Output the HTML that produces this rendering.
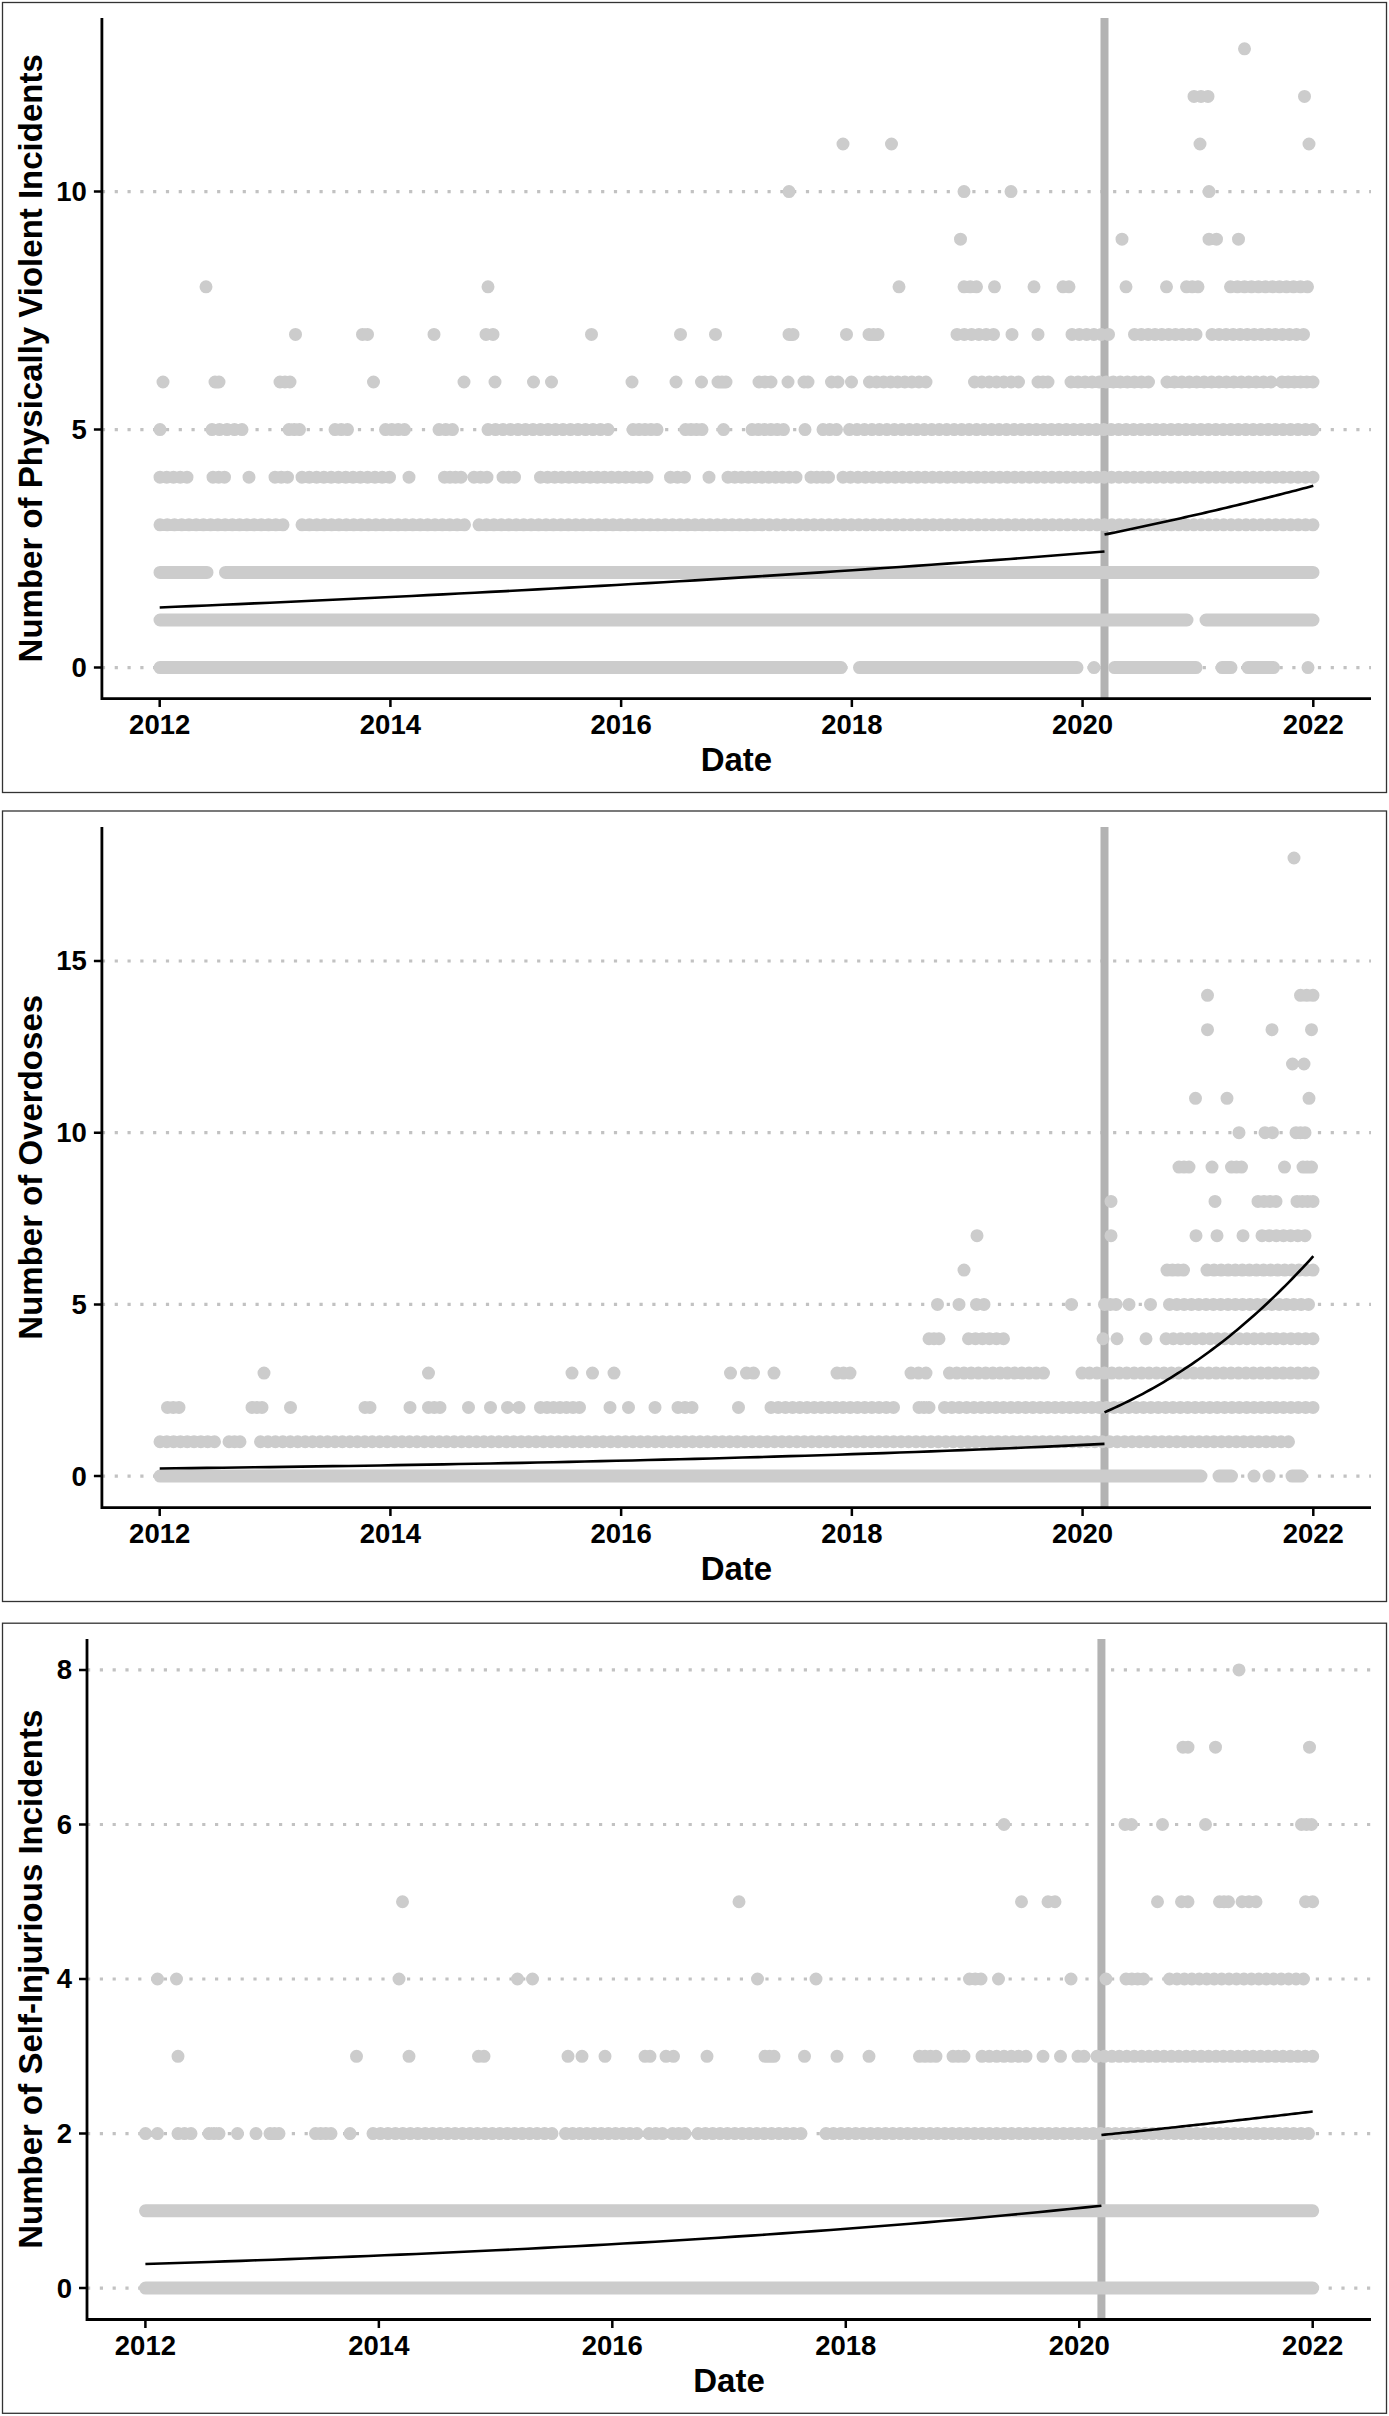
<!DOCTYPE html>
<html><head><meta charset="utf-8"><style>
html,body{margin:0;padding:0;background:#fff;}
svg{display:block;}
.tk{font-family:"Liberation Sans",sans-serif;font-weight:bold;font-size:27.5px;fill:#000;}
.ti{font-family:"Liberation Sans",sans-serif;font-weight:bold;font-size:33px;fill:#000;}
</style></head><body>
<svg width="1389" height="2416" viewBox="0 0 1389 2416">
<rect width="1389" height="2416" fill="#fff"/>
<rect x="2.5" y="2.5" width="1384" height="790" fill="none" stroke="#333" stroke-width="1.3"/>
<line x1="101.9" y1="667.6" x2="1371" y2="667.6" stroke="#c2c2c2" stroke-width="3.2" stroke-dasharray="3.2 9.6"/>
<line x1="101.9" y1="429.6" x2="1371" y2="429.6" stroke="#c2c2c2" stroke-width="3.2" stroke-dasharray="3.2 9.6"/>
<line x1="101.9" y1="191.6" x2="1371" y2="191.6" stroke="#c2c2c2" stroke-width="3.2" stroke-dasharray="3.2 9.6"/>
<line x1="1104.5" y1="18" x2="1104.5" y2="698.6" stroke="#b3b3b3" stroke-width="8"/>
<path d="M1244.5 48.8H1244.5M1194 96.4h0M1201 96.4h0M1208 96.4h0M1304.5 96.4H1304.5M843 144H843M891.5 144H891.5M1200 144H1200M1309 144H1309M789 191.6H789M964 191.6H964M1011 191.6H1011M1209 191.6H1209M960.5 239.2H960.5M1122 239.2H1122M1209 239.2h0M1216.5 239.2h0M1238.5 239.2H1238.5M206 286.8H206M488 286.8H488M899 286.8H899M964 286.8h0M970.25 286.8h0M976.5 286.8h0M994.5 286.8H994.5M1034 286.8H1034M1063 286.8h0M1069 286.8h0M1126 286.8H1126M1166.5 286.8H1166.5M1186.5 286.8h0M1192.25 286.8h0M1198 286.8h0M1230.5 286.8h0M1237.5 286.8h0M1244.5 286.8h0M1251.5 286.8h0M1258.5 286.8h0M1265.5 286.8h0M1272.5 286.8h0M1279.5 286.8h0M1286.5 286.8h0M1293.5 286.8h0M1300.5 286.8h0M1307.5 286.8h0M295.5 334.4H295.5M362.5 334.4h0M367.5 334.4h0M434 334.4H434M486 334.4h0M493 334.4h0M591.5 334.4H591.5M680.5 334.4H680.5M715.5 334.4H715.5M789 334.4h0M793 334.4h0M846.5 334.4H846.5M869 334.4h0M873.5 334.4h0M878 334.4h0M957 334.4h0M964.3 334.4h0M971.6 334.4h0M978.9 334.4h0M986.2 334.4h0M993.5 334.4h0M1012 334.4H1012M1038 334.4H1038M1072 334.4h0M1079.3 334.4h0M1086.6 334.4h0M1093.9 334.4h0M1101.2 334.4h0M1108.5 334.4h0M1134.5 334.4h0M1141.33 334.4h0M1148.17 334.4h0M1155 334.4h0M1161.83 334.4h0M1168.67 334.4h0M1175.5 334.4h0M1182.33 334.4h0M1189.17 334.4h0M1196 334.4h0M1212 334.4h0M1219.04 334.4h0M1226.08 334.4h0M1233.12 334.4h0M1240.15 334.4h0M1247.19 334.4h0M1254.23 334.4h0M1261.27 334.4h0M1268.31 334.4h0M1275.35 334.4h0M1282.38 334.4h0M1289.42 334.4h0M1296.46 334.4h0M1303.5 334.4h0M163 382H163M215 382h0M219 382h0M280 382h0M285 382h0M290 382h0M373.5 382H373.5M464 382H464M495 382H495M533.5 382H533.5M551.5 382H551.5M632 382H632M676 382H676M701.5 382H701.5M718 382h0M722 382h0M726 382h0M759 382h0M765 382h0M771 382h0M788 382H788M804 382h0M808 382h0M831.5 382h0M838 382h0M851.5 382H851.5M869.5 382h0M876.56 382h0M883.62 382h0M890.69 382h0M897.75 382h0M904.81 382h0M911.88 382h0M918.94 382h0M926 382h0M974.5 382h0M981.83 382h0M989.17 382h0M996.5 382h0M1003.83 382h0M1011.17 382h0M1018.5 382h0M1038 382h0M1043 382h0M1048 382h0M1071 382h0M1078.05 382h0M1085.09 382h0M1092.14 382h0M1099.18 382h0M1106.23 382h0M1113.27 382h0M1120.32 382h0M1127.36 382h0M1134.41 382h0M1141.45 382h0M1148.5 382h0M1167 382h0M1174.43 382h0M1181.86 382h0M1189.29 382h0M1196.71 382h0M1204.14 382h0M1211.57 382h0M1219 382h0M1226.43 382h0M1233.86 382h0M1241.29 382h0M1248.71 382h0M1256.14 382h0M1263.57 382h0M1271 382h0M1282 382h0M1288.2 382h0M1294.4 382h0M1300.6 382h0M1306.8 382h0M1313 382h0M160 429.6H160M212 429.6h0M219.5 429.6h0M227 429.6h0M234.5 429.6h0M242 429.6h0M289 429.6h0M294.25 429.6h0M299.5 429.6h0M335 429.6h0M341.25 429.6h0M347.5 429.6h0M385.5 429.6h0M391.83 429.6h0M398.17 429.6h0M404.5 429.6h0M439 429.6h0M445.75 429.6h0M452.5 429.6h0M488 429.6h0M495.5 429.6h0M503 429.6h0M510.5 429.6h0M518 429.6h0M525.5 429.6h0M533 429.6h0M540.5 429.6h0M548 429.6h0M555.5 429.6h0M563 429.6h0M570.5 429.6h0M578 429.6h0M585.5 429.6h0M593 429.6h0M600.5 429.6h0M608 429.6h0M633 429.6h0M639 429.6h0M645 429.6h0M651 429.6h0M657 429.6h0M685.5 429.6h0M691 429.6h0M696.5 429.6h0M702 429.6h0M723.5 429.6H723.5M752 429.6h0M758.3 429.6h0M764.6 429.6h0M770.9 429.6h0M777.2 429.6h0M783.5 429.6h0M805 429.6H805M823 429.6h0M829.75 429.6h0M836.5 429.6h0M849.5 429.6h0M856.98 429.6h0M864.45 429.6h0M871.93 429.6h0M879.4 429.6h0M886.88 429.6h0M894.35 429.6h0M901.83 429.6h0M909.31 429.6h0M916.78 429.6h0M924.26 429.6h0M931.73 429.6h0M939.21 429.6h0M946.69 429.6h0M954.16 429.6h0M961.64 429.6h0M969.11 429.6h0M976.59 429.6h0M984.06 429.6h0M991.54 429.6h0M999.02 429.6h0M1006.49 429.6h0M1013.97 429.6h0M1021.44 429.6h0M1028.92 429.6h0M1036.4 429.6h0M1043.87 429.6h0M1051.35 429.6h0M1058.82 429.6h0M1066.3 429.6h0M1073.77 429.6h0M1081.25 429.6h0M1088.73 429.6h0M1096.2 429.6h0M1103.68 429.6h0M1111.15 429.6h0M1118.63 429.6h0M1126.1 429.6h0M1133.58 429.6h0M1141.06 429.6h0M1148.53 429.6h0M1156.01 429.6h0M1163.48 429.6h0M1170.96 429.6h0M1178.44 429.6h0M1185.91 429.6h0M1193.39 429.6h0M1200.86 429.6h0M1208.34 429.6h0M1215.81 429.6h0M1223.29 429.6h0M1230.77 429.6h0M1238.24 429.6h0M1245.72 429.6h0M1253.19 429.6h0M1260.67 429.6h0M1268.15 429.6h0M1275.62 429.6h0M1283.1 429.6h0M1290.57 429.6h0M1298.05 429.6h0M1305.52 429.6h0M1313 429.6h0M160 477.2h0M166.75 477.2h0M173.5 477.2h0M180.25 477.2h0M187 477.2h0M213 477.2h0M218.75 477.2h0M224.5 477.2h0M249 477.2H249M275 477.2h0M281.25 477.2h0M287.5 477.2h0M302 477.2h0M309.29 477.2h0M316.58 477.2h0M323.88 477.2h0M331.17 477.2h0M338.46 477.2h0M345.75 477.2h0M353.04 477.2h0M360.33 477.2h0M367.62 477.2h0M374.92 477.2h0M382.21 477.2h0M389.5 477.2h0M409 477.2H409M444.5 477.2h0M450 477.2h0M455.5 477.2h0M461 477.2h0M474 477.2h0M480.5 477.2h0M487 477.2h0M503 477.2h0M508.75 477.2h0M514.5 477.2h0M540.5 477.2h0M547.6 477.2h0M554.7 477.2h0M561.8 477.2h0M568.9 477.2h0M576 477.2h0M583.1 477.2h0M590.2 477.2h0M597.3 477.2h0M604.4 477.2h0M611.5 477.2h0M618.6 477.2h0M625.7 477.2h0M632.8 477.2h0M639.9 477.2h0M647 477.2h0M670.5 477.2h0M677.5 477.2h0M684.5 477.2h0M709 477.2H709M728 477.2h0M734.8 477.2h0M741.6 477.2h0M748.4 477.2h0M755.2 477.2h0M762 477.2h0M768.8 477.2h0M775.6 477.2h0M782.4 477.2h0M789.2 477.2h0M796 477.2h0M811 477.2h0M816.83 477.2h0M822.67 477.2h0M828.5 477.2h0M843 477.2h0M850.46 477.2h0M857.92 477.2h0M865.38 477.2h0M872.84 477.2h0M880.3 477.2h0M887.76 477.2h0M895.22 477.2h0M902.68 477.2h0M910.14 477.2h0M917.6 477.2h0M925.06 477.2h0M932.52 477.2h0M939.98 477.2h0M947.44 477.2h0M954.9 477.2h0M962.37 477.2h0M969.83 477.2h0M977.29 477.2h0M984.75 477.2h0M992.21 477.2h0M999.67 477.2h0M1007.13 477.2h0M1014.59 477.2h0M1022.05 477.2h0M1029.51 477.2h0M1036.97 477.2h0M1044.43 477.2h0M1051.89 477.2h0M1059.35 477.2h0M1066.81 477.2h0M1074.27 477.2h0M1081.73 477.2h0M1089.19 477.2h0M1096.65 477.2h0M1104.11 477.2h0M1111.57 477.2h0M1119.03 477.2h0M1126.49 477.2h0M1133.95 477.2h0M1141.41 477.2h0M1148.87 477.2h0M1156.33 477.2h0M1163.79 477.2h0M1171.25 477.2h0M1178.71 477.2h0M1186.17 477.2h0M1193.63 477.2h0M1201.1 477.2h0M1208.56 477.2h0M1216.02 477.2h0M1223.48 477.2h0M1230.94 477.2h0M1238.4 477.2h0M1245.86 477.2h0M1253.32 477.2h0M1260.78 477.2h0M1268.24 477.2h0M1275.7 477.2h0M1283.16 477.2h0M1290.62 477.2h0M1298.08 477.2h0M1305.54 477.2h0M1313 477.2h0M160 524.8h0M167.24 524.8h0M174.47 524.8h0M181.71 524.8h0M188.94 524.8h0M196.18 524.8h0M203.41 524.8h0M210.65 524.8h0M217.88 524.8h0M225.12 524.8h0M232.35 524.8h0M239.59 524.8h0M246.82 524.8h0M254.06 524.8h0M261.29 524.8h0M268.53 524.8h0M275.76 524.8h0M283 524.8h0M302 524.8h0M309.39 524.8h0M316.77 524.8h0M324.16 524.8h0M331.55 524.8h0M338.93 524.8h0M346.32 524.8h0M353.7 524.8h0M361.09 524.8h0M368.48 524.8h0M375.86 524.8h0M383.25 524.8h0M390.64 524.8h0M398.02 524.8h0M405.41 524.8h0M412.8 524.8h0M420.18 524.8h0M427.57 524.8h0M434.95 524.8h0M442.34 524.8h0M449.73 524.8h0M457.11 524.8h0M464.5 524.8h0M479 524.8h0M486.45 524.8h0M493.89 524.8h0M501.34 524.8h0M508.79 524.8h0M516.23 524.8h0M523.68 524.8h0M531.12 524.8h0M538.57 524.8h0M546.02 524.8h0M553.46 524.8h0M560.91 524.8h0M568.36 524.8h0M575.8 524.8h0M583.25 524.8h0M590.7 524.8h0M598.14 524.8h0M605.59 524.8h0M613.04 524.8h0M620.48 524.8h0M627.93 524.8h0M635.38 524.8h0M642.82 524.8h0M650.27 524.8h0M657.71 524.8h0M665.16 524.8h0M672.61 524.8h0M680.05 524.8h0M687.5 524.8h0M694.95 524.8h0M702.39 524.8h0M709.84 524.8h0M717.29 524.8h0M724.73 524.8h0M732.18 524.8h0M739.62 524.8h0M747.07 524.8h0M754.52 524.8h0M761.96 524.8h0M769.41 524.8h0M776.86 524.8h0M784.3 524.8h0M791.75 524.8h0M799.2 524.8h0M806.64 524.8h0M814.09 524.8h0M821.54 524.8h0M828.98 524.8h0M836.43 524.8h0M843.88 524.8h0M851.32 524.8h0M858.77 524.8h0M866.21 524.8h0M873.66 524.8h0M881.11 524.8h0M888.55 524.8h0M896 524.8h0M903.45 524.8h0M910.89 524.8h0M918.34 524.8h0M925.79 524.8h0M933.23 524.8h0M940.68 524.8h0M948.12 524.8h0M955.57 524.8h0M963.02 524.8h0M970.46 524.8h0M977.91 524.8h0M985.36 524.8h0M992.8 524.8h0M1000.25 524.8h0M1007.7 524.8h0M1015.14 524.8h0M1022.59 524.8h0M1030.04 524.8h0M1037.48 524.8h0M1044.93 524.8h0M1052.38 524.8h0M1059.82 524.8h0M1067.27 524.8h0M1074.71 524.8h0M1082.16 524.8h0M1089.61 524.8h0M1097.05 524.8h0M1104.5 524.8h0M1111.95 524.8h0M1119.39 524.8h0M1126.84 524.8h0M1134.29 524.8h0M1141.73 524.8h0M1149.18 524.8h0M1156.62 524.8h0M1164.07 524.8h0M1171.52 524.8h0M1178.96 524.8h0M1186.41 524.8h0M1193.86 524.8h0M1201.3 524.8h0M1208.75 524.8h0M1216.2 524.8h0M1223.64 524.8h0M1231.09 524.8h0M1238.54 524.8h0M1245.98 524.8h0M1253.43 524.8h0M1260.88 524.8h0M1268.32 524.8h0M1275.77 524.8h0M1283.21 524.8h0M1290.66 524.8h0M1298.11 524.8h0M1305.55 524.8h0M1313 524.8h0M160 572.4H207M225.5 572.4H1313M160 620H1187M1206 620H1313M160 667.6H841M859.5 667.6H1077M1094 667.6H1094M1114.5 667.6H1196M1222 667.6H1231M1248 667.6H1273.5M1308 667.6H1308" stroke="#cccccc" stroke-width="13" stroke-linecap="round" fill="none"/>
<polyline points="159.7,607.48 175.45,606.82 191.19,606.15 206.94,605.47 222.69,604.79 238.43,604.09 254.18,603.39 269.93,602.69 285.67,601.97 301.42,601.25 317.17,600.52 332.91,599.78 348.66,599.03 364.41,598.27 380.15,597.51 395.9,596.74 411.65,595.96 427.39,595.17 443.14,594.37 458.89,593.56 474.63,592.75 490.38,591.92 506.13,591.09 521.87,590.24 537.62,589.39 553.37,588.53 569.11,587.66 584.86,586.78 600.61,585.89 616.35,584.99 632.1,584.07 647.85,583.15 663.59,582.22 679.34,581.28 695.09,580.33 710.83,579.37 726.58,578.4 742.33,577.41 758.07,576.42 773.82,575.41 789.57,574.4 805.31,573.37 821.06,572.33 836.81,571.28 852.55,570.22 868.3,569.15 884.05,568.06 899.79,566.97 915.54,565.86 931.29,564.74 947.03,563.6 962.78,562.46 978.53,561.3 994.27,560.13 1010.02,558.94 1025.77,557.74 1041.51,556.53 1057.26,555.31 1073.01,554.07 1088.75,552.82 1104.5,551.55" fill="none" stroke="#000" stroke-width="2.6"/>
<polyline points="1104.5,534.57 1107.98,533.86 1111.46,533.14 1114.94,532.42 1118.42,531.7 1121.9,530.98 1125.38,530.25 1128.86,529.52 1132.34,528.79 1135.82,528.05 1139.3,527.31 1142.78,526.57 1146.26,525.82 1149.74,525.07 1153.22,524.32 1156.7,523.56 1160.18,522.8 1163.66,522.04 1167.14,521.27 1170.62,520.5 1174.1,519.73 1177.58,518.95 1181.06,518.17 1184.54,517.39 1188.02,516.6 1191.5,515.81 1194.98,515.01 1198.46,514.22 1201.94,513.42 1205.42,512.61 1208.9,511.8 1212.38,510.99 1215.86,510.17 1219.34,509.36 1222.82,508.53 1226.3,507.71 1229.78,506.88 1233.26,506.04 1236.74,505.21 1240.22,504.37 1243.7,503.52 1247.18,502.67 1250.66,501.82 1254.14,500.97 1257.62,500.11 1261.1,499.24 1264.58,498.38 1268.06,497.51 1271.54,496.63 1275.02,495.76 1278.5,494.88 1281.98,493.99 1285.46,493.1 1288.94,492.21 1292.42,491.31 1295.9,490.41 1299.38,489.51 1302.86,488.6 1306.34,487.69 1309.82,486.77 1313.3,485.85" fill="none" stroke="#000" stroke-width="2.6"/>
<path d="M101.9 18V698.6H1371" fill="none" stroke="#000" stroke-width="2.8" stroke-linecap="butt"/>
<path d="M93.9 667.6H101.9M93.9 429.6H101.9M93.9 191.6H101.9M159.7 698.6V707.1M390.42 698.6V707.1M621.14 698.6V707.1M851.86 698.6V707.1M1082.58 698.6V707.1M1313.3 698.6V707.1" stroke="#000" stroke-width="2.5"/>
<text x="86.9" y="677" text-anchor="end" class="tk">0</text>
<text x="86.9" y="439" text-anchor="end" class="tk">5</text>
<text x="86.9" y="201" text-anchor="end" class="tk">10</text>
<text x="159.7" y="733.8" text-anchor="middle" class="tk">2012</text>
<text x="390.42" y="733.8" text-anchor="middle" class="tk">2014</text>
<text x="621.14" y="733.8" text-anchor="middle" class="tk">2016</text>
<text x="851.86" y="733.8" text-anchor="middle" class="tk">2018</text>
<text x="1082.58" y="733.8" text-anchor="middle" class="tk">2020</text>
<text x="1313.3" y="733.8" text-anchor="middle" class="tk">2022</text>
<text x="736.45" y="770.8" text-anchor="middle" class="ti">Date</text>
<text transform="translate(42.2 358.3) rotate(-90)" x="0" y="0" text-anchor="middle" class="ti">Number of Physically Violent Incidents</text>
<rect x="2.5" y="811" width="1384" height="790.5" fill="none" stroke="#333" stroke-width="1.3"/>
<line x1="101.9" y1="1476.1" x2="1371" y2="1476.1" stroke="#c2c2c2" stroke-width="3.2" stroke-dasharray="3.2 9.6"/>
<line x1="101.9" y1="1304.4" x2="1371" y2="1304.4" stroke="#c2c2c2" stroke-width="3.2" stroke-dasharray="3.2 9.6"/>
<line x1="101.9" y1="1132.7" x2="1371" y2="1132.7" stroke="#c2c2c2" stroke-width="3.2" stroke-dasharray="3.2 9.6"/>
<line x1="101.9" y1="961" x2="1371" y2="961" stroke="#c2c2c2" stroke-width="3.2" stroke-dasharray="3.2 9.6"/>
<line x1="1104.5" y1="827" x2="1104.5" y2="1507.6" stroke="#b3b3b3" stroke-width="8"/>
<path d="M1294 857.98H1294M1207.5 995.34H1207.5M1300.5 995.34h0M1306.75 995.34h0M1313 995.34h0M1207.5 1029.68H1207.5M1272 1029.68H1272M1311.5 1029.68H1311.5M1292.5 1064.02H1292.5M1304 1064.02H1304M1195.5 1098.36H1195.5M1227 1098.36H1227M1309 1098.36H1309M1239 1132.7H1239M1265 1132.7h0M1272.5 1132.7h0M1296 1132.7h0M1300.5 1132.7h0M1305 1132.7h0M1179 1167.04h0M1184 1167.04h0M1189 1167.04h0M1212 1167.04H1212M1231.5 1167.04h0M1236.5 1167.04h0M1241.5 1167.04h0M1284.5 1167.04H1284.5M1303 1167.04h0M1307.25 1167.04h0M1311.5 1167.04h0M1111 1201.38H1111M1215 1201.38H1215M1258 1201.38h0M1264 1201.38h0M1270 1201.38h0M1276 1201.38h0M1297 1201.38h0M1302.33 1201.38h0M1307.67 1201.38h0M1313 1201.38h0M977 1235.72H977M1111 1235.72H1111M1196 1235.72H1196M1217 1235.72H1217M1243 1235.72H1243M1262 1235.72h0M1269.17 1235.72h0M1276.33 1235.72h0M1283.5 1235.72h0M1290.67 1235.72h0M1297.83 1235.72h0M1305 1235.72h0M964 1270.06H964M1167 1270.06h0M1172.5 1270.06h0M1178 1270.06h0M1183.5 1270.06h0M1207 1270.06h0M1214.07 1270.06h0M1221.13 1270.06h0M1228.2 1270.06h0M1235.27 1270.06h0M1242.33 1270.06h0M1249.4 1270.06h0M1256.47 1270.06h0M1263.53 1270.06h0M1270.6 1270.06h0M1277.67 1270.06h0M1284.73 1270.06h0M1291.8 1270.06h0M1298.87 1270.06h0M1305.93 1270.06h0M1313 1270.06h0M937.5 1304.4H937.5M959 1304.4H959M976.5 1304.4h0M984 1304.4h0M1071.5 1304.4H1071.5M1104.5 1304.4h0M1110.25 1304.4h0M1116 1304.4h0M1129 1304.4H1129M1150.5 1304.4H1150.5M1169.5 1304.4h0M1176.82 1304.4h0M1184.13 1304.4h0M1191.45 1304.4h0M1198.76 1304.4h0M1206.08 1304.4h0M1213.39 1304.4h0M1220.71 1304.4h0M1228.03 1304.4h0M1235.34 1304.4h0M1242.66 1304.4h0M1249.97 1304.4h0M1257.29 1304.4h0M1264.61 1304.4h0M1271.92 1304.4h0M1279.24 1304.4h0M1286.55 1304.4h0M1293.87 1304.4h0M1301.18 1304.4h0M1308.5 1304.4h0M929 1338.74h0M934 1338.74h0M939 1338.74h0M968.5 1338.74h0M975.5 1338.74h0M982.5 1338.74h0M989.5 1338.74h0M996.5 1338.74h0M1003.5 1338.74h0M1103 1338.74H1103M1117 1338.74H1117M1146 1338.74H1146M1166 1338.74h0M1173.35 1338.74h0M1180.7 1338.74h0M1188.05 1338.74h0M1195.4 1338.74h0M1202.75 1338.74h0M1210.1 1338.74h0M1217.45 1338.74h0M1224.8 1338.74h0M1232.15 1338.74h0M1239.5 1338.74h0M1246.85 1338.74h0M1254.2 1338.74h0M1261.55 1338.74h0M1268.9 1338.74h0M1276.25 1338.74h0M1283.6 1338.74h0M1290.95 1338.74h0M1298.3 1338.74h0M1305.65 1338.74h0M1313 1338.74h0M264 1373.08H264M428.5 1373.08H428.5M572 1373.08H572M592.5 1373.08H592.5M614 1373.08H614M730.5 1373.08H730.5M746.5 1373.08h0M753.5 1373.08h0M774 1373.08H774M837 1373.08h0M843.5 1373.08h0M850 1373.08h0M911 1373.08h0M918.5 1373.08h0M926 1373.08h0M949.5 1373.08h0M956.73 1373.08h0M963.96 1373.08h0M971.19 1373.08h0M978.42 1373.08h0M985.65 1373.08h0M992.88 1373.08h0M1000.12 1373.08h0M1007.35 1373.08h0M1014.58 1373.08h0M1021.81 1373.08h0M1029.04 1373.08h0M1036.27 1373.08h0M1043.5 1373.08h0M1082 1373.08h0M1089.45 1373.08h0M1096.9 1373.08h0M1104.35 1373.08h0M1111.81 1373.08h0M1119.26 1373.08h0M1126.71 1373.08h0M1134.16 1373.08h0M1141.61 1373.08h0M1149.06 1373.08h0M1156.52 1373.08h0M1163.97 1373.08h0M1171.42 1373.08h0M1178.87 1373.08h0M1186.32 1373.08h0M1193.77 1373.08h0M1201.23 1373.08h0M1208.68 1373.08h0M1216.13 1373.08h0M1223.58 1373.08h0M1231.03 1373.08h0M1238.48 1373.08h0M1245.94 1373.08h0M1253.39 1373.08h0M1260.84 1373.08h0M1268.29 1373.08h0M1275.74 1373.08h0M1283.19 1373.08h0M1290.65 1373.08h0M1298.1 1373.08h0M1305.55 1373.08h0M1313 1373.08h0M167.5 1407.42h0M173.25 1407.42h0M179 1407.42h0M252 1407.42h0M257 1407.42h0M262 1407.42h0M290.5 1407.42H290.5M365 1407.42h0M370 1407.42h0M410 1407.42H410M428.5 1407.42h0M434.25 1407.42h0M440 1407.42h0M468.5 1407.42H468.5M490.5 1407.42H490.5M507.5 1407.42H507.5M519 1407.42H519M540.5 1407.42h0M547 1407.42h0M553.5 1407.42h0M560 1407.42h0M566.5 1407.42h0M573 1407.42h0M579.5 1407.42h0M610 1407.42H610M628.5 1407.42H628.5M655 1407.42H655M678 1407.42h0M685 1407.42h0M692 1407.42h0M738.5 1407.42H738.5M771 1407.42h0M778.21 1407.42h0M785.41 1407.42h0M792.62 1407.42h0M799.82 1407.42h0M807.03 1407.42h0M814.24 1407.42h0M821.44 1407.42h0M828.65 1407.42h0M835.85 1407.42h0M843.06 1407.42h0M850.26 1407.42h0M857.47 1407.42h0M864.68 1407.42h0M871.88 1407.42h0M879.09 1407.42h0M886.29 1407.42h0M893.5 1407.42h0M919 1407.42h0M924 1407.42h0M929 1407.42h0M944.5 1407.42h0M951.87 1407.42h0M959.24 1407.42h0M966.61 1407.42h0M973.98 1407.42h0M981.35 1407.42h0M988.72 1407.42h0M996.09 1407.42h0M1003.46 1407.42h0M1010.83 1407.42h0M1018.2 1407.42h0M1025.57 1407.42h0M1032.94 1407.42h0M1040.31 1407.42h0M1047.68 1407.42h0M1055.05 1407.42h0M1062.42 1407.42h0M1069.79 1407.42h0M1077.16 1407.42h0M1084.53 1407.42h0M1091.9 1407.42h0M1099.27 1407.42h0M1106.64 1407.42h0M1114.01 1407.42h0M1121.38 1407.42h0M1128.75 1407.42h0M1136.12 1407.42h0M1143.49 1407.42h0M1150.86 1407.42h0M1158.23 1407.42h0M1165.6 1407.42h0M1172.97 1407.42h0M1180.34 1407.42h0M1187.71 1407.42h0M1195.08 1407.42h0M1202.45 1407.42h0M1209.82 1407.42h0M1217.19 1407.42h0M1224.56 1407.42h0M1231.93 1407.42h0M1239.3 1407.42h0M1246.67 1407.42h0M1254.04 1407.42h0M1261.41 1407.42h0M1268.78 1407.42h0M1276.15 1407.42h0M1283.52 1407.42h0M1290.89 1407.42h0M1298.26 1407.42h0M1305.63 1407.42h0M1313 1407.42h0M160 1441.76h0M166.81 1441.76h0M173.62 1441.76h0M180.44 1441.76h0M187.25 1441.76h0M194.06 1441.76h0M200.88 1441.76h0M207.69 1441.76h0M214.5 1441.76h0M229 1441.76h0M234.5 1441.76h0M240 1441.76h0M260.5 1441.76h0M267.95 1441.76h0M275.4 1441.76h0M282.85 1441.76h0M290.3 1441.76h0M297.75 1441.76h0M305.2 1441.76h0M312.64 1441.76h0M320.09 1441.76h0M327.54 1441.76h0M334.99 1441.76h0M342.44 1441.76h0M349.89 1441.76h0M357.34 1441.76h0M364.79 1441.76h0M372.24 1441.76h0M379.69 1441.76h0M387.14 1441.76h0M394.59 1441.76h0M402.04 1441.76h0M409.49 1441.76h0M416.93 1441.76h0M424.38 1441.76h0M431.83 1441.76h0M439.28 1441.76h0M446.73 1441.76h0M454.18 1441.76h0M461.63 1441.76h0M469.08 1441.76h0M476.53 1441.76h0M483.98 1441.76h0M491.43 1441.76h0M498.88 1441.76h0M506.33 1441.76h0M513.78 1441.76h0M521.22 1441.76h0M528.67 1441.76h0M536.12 1441.76h0M543.57 1441.76h0M551.02 1441.76h0M558.47 1441.76h0M565.92 1441.76h0M573.37 1441.76h0M580.82 1441.76h0M588.27 1441.76h0M595.72 1441.76h0M603.17 1441.76h0M610.62 1441.76h0M618.07 1441.76h0M625.51 1441.76h0M632.96 1441.76h0M640.41 1441.76h0M647.86 1441.76h0M655.31 1441.76h0M662.76 1441.76h0M670.21 1441.76h0M677.66 1441.76h0M685.11 1441.76h0M692.56 1441.76h0M700.01 1441.76h0M707.46 1441.76h0M714.91 1441.76h0M722.36 1441.76h0M729.8 1441.76h0M737.25 1441.76h0M744.7 1441.76h0M752.15 1441.76h0M759.6 1441.76h0M767.05 1441.76h0M774.5 1441.76h0M781.95 1441.76h0M789.4 1441.76h0M796.85 1441.76h0M804.3 1441.76h0M811.75 1441.76h0M819.2 1441.76h0M826.64 1441.76h0M834.09 1441.76h0M841.54 1441.76h0M848.99 1441.76h0M856.44 1441.76h0M863.89 1441.76h0M871.34 1441.76h0M878.79 1441.76h0M886.24 1441.76h0M893.69 1441.76h0M901.14 1441.76h0M908.59 1441.76h0M916.04 1441.76h0M923.49 1441.76h0M930.93 1441.76h0M938.38 1441.76h0M945.83 1441.76h0M953.28 1441.76h0M960.73 1441.76h0M968.18 1441.76h0M975.63 1441.76h0M983.08 1441.76h0M990.53 1441.76h0M997.98 1441.76h0M1005.43 1441.76h0M1012.88 1441.76h0M1020.33 1441.76h0M1027.78 1441.76h0M1035.22 1441.76h0M1042.67 1441.76h0M1050.12 1441.76h0M1057.57 1441.76h0M1065.02 1441.76h0M1072.47 1441.76h0M1079.92 1441.76h0M1087.37 1441.76h0M1094.82 1441.76h0M1102.27 1441.76h0M1109.72 1441.76h0M1117.17 1441.76h0M1124.62 1441.76h0M1132.07 1441.76h0M1139.51 1441.76h0M1146.96 1441.76h0M1154.41 1441.76h0M1161.86 1441.76h0M1169.31 1441.76h0M1176.76 1441.76h0M1184.21 1441.76h0M1191.66 1441.76h0M1199.11 1441.76h0M1206.56 1441.76h0M1214.01 1441.76h0M1221.46 1441.76h0M1228.91 1441.76h0M1236.36 1441.76h0M1243.8 1441.76h0M1251.25 1441.76h0M1258.7 1441.76h0M1266.15 1441.76h0M1273.6 1441.76h0M1281.05 1441.76h0M1288.5 1441.76h0M160 1476.1H1201M1219 1476.1H1231.5M1254 1476.1H1254M1269 1476.1H1269M1292 1476.1H1301" stroke="#cccccc" stroke-width="13" stroke-linecap="round" fill="none"/>
<polyline points="159.7,1468.48 175.45,1468.29 191.19,1468.1 206.94,1467.91 222.69,1467.71 238.43,1467.5 254.18,1467.29 269.93,1467.08 285.67,1466.86 301.42,1466.64 317.17,1466.41 332.91,1466.17 348.66,1465.93 364.41,1465.68 380.15,1465.43 395.9,1465.17 411.65,1464.9 427.39,1464.63 443.14,1464.35 458.89,1464.07 474.63,1463.77 490.38,1463.47 506.13,1463.17 521.87,1462.85 537.62,1462.53 553.37,1462.2 569.11,1461.86 584.86,1461.52 600.61,1461.16 616.35,1460.8 632.1,1460.43 647.85,1460.05 663.59,1459.66 679.34,1459.26 695.09,1458.85 710.83,1458.43 726.58,1458 742.33,1457.56 758.07,1457.11 773.82,1456.64 789.57,1456.17 805.31,1455.69 821.06,1455.19 836.81,1454.68 852.55,1454.16 868.3,1453.63 884.05,1453.08 899.79,1452.52 915.54,1451.95 931.29,1451.36 947.03,1450.76 962.78,1450.14 978.53,1449.51 994.27,1448.86 1010.02,1448.2 1025.77,1447.52 1041.51,1446.83 1057.26,1446.12 1073.01,1445.39 1088.75,1444.64 1104.5,1443.88" fill="none" stroke="#000" stroke-width="2.6"/>
<polyline points="1104.5,1412.34 1107.98,1410.81 1111.46,1409.25 1114.94,1407.66 1118.42,1406.04 1121.9,1404.38 1125.38,1402.7 1128.86,1400.99 1132.34,1399.24 1135.82,1397.46 1139.3,1395.65 1142.78,1393.8 1146.26,1391.93 1149.74,1390.01 1153.22,1388.07 1156.7,1386.09 1160.18,1384.07 1163.66,1382.02 1167.14,1379.93 1170.62,1377.81 1174.1,1375.65 1177.58,1373.46 1181.06,1371.22 1184.54,1368.95 1188.02,1366.64 1191.5,1364.3 1194.98,1361.91 1198.46,1359.49 1201.94,1357.03 1205.42,1354.53 1208.9,1351.99 1212.38,1349.4 1215.86,1346.78 1219.34,1344.12 1222.82,1341.42 1226.3,1338.68 1229.78,1335.89 1233.26,1333.07 1236.74,1330.2 1240.22,1327.29 1243.7,1324.34 1247.18,1321.34 1250.66,1318.31 1254.14,1315.23 1257.62,1312.1 1261.1,1308.94 1264.58,1305.73 1268.06,1302.48 1271.54,1299.18 1275.02,1295.84 1278.5,1292.46 1281.98,1289.03 1285.46,1285.56 1288.94,1282.05 1292.42,1278.49 1295.9,1274.88 1299.38,1271.23 1302.86,1267.54 1306.34,1263.8 1309.82,1260.02 1313.3,1256.2" fill="none" stroke="#000" stroke-width="2.6"/>
<path d="M101.9 827V1507.6H1371" fill="none" stroke="#000" stroke-width="2.8" stroke-linecap="butt"/>
<path d="M93.9 1476.1H101.9M93.9 1304.4H101.9M93.9 1132.7H101.9M93.9 961H101.9M159.7 1507.6V1516.1M390.42 1507.6V1516.1M621.14 1507.6V1516.1M851.86 1507.6V1516.1M1082.58 1507.6V1516.1M1313.3 1507.6V1516.1" stroke="#000" stroke-width="2.5"/>
<text x="86.9" y="1485.5" text-anchor="end" class="tk">0</text>
<text x="86.9" y="1313.8" text-anchor="end" class="tk">5</text>
<text x="86.9" y="1142.1" text-anchor="end" class="tk">10</text>
<text x="86.9" y="970.4" text-anchor="end" class="tk">15</text>
<text x="159.7" y="1542.8" text-anchor="middle" class="tk">2012</text>
<text x="390.42" y="1542.8" text-anchor="middle" class="tk">2014</text>
<text x="621.14" y="1542.8" text-anchor="middle" class="tk">2016</text>
<text x="851.86" y="1542.8" text-anchor="middle" class="tk">2018</text>
<text x="1082.58" y="1542.8" text-anchor="middle" class="tk">2020</text>
<text x="1313.3" y="1542.8" text-anchor="middle" class="tk">2022</text>
<text x="736.45" y="1579.8" text-anchor="middle" class="ti">Date</text>
<text transform="translate(42.2 1167.3) rotate(-90)" x="0" y="0" text-anchor="middle" class="ti">Number of Overdoses</text>
<rect x="2.5" y="1623.2" width="1384" height="790.1" fill="none" stroke="#333" stroke-width="1.3"/>
<line x1="87" y1="2288.1" x2="1371" y2="2288.1" stroke="#c2c2c2" stroke-width="3.2" stroke-dasharray="3.2 9.6"/>
<line x1="87" y1="2133.56" x2="1371" y2="2133.56" stroke="#c2c2c2" stroke-width="3.2" stroke-dasharray="3.2 9.6"/>
<line x1="87" y1="1979.02" x2="1371" y2="1979.02" stroke="#c2c2c2" stroke-width="3.2" stroke-dasharray="3.2 9.6"/>
<line x1="87" y1="1824.48" x2="1371" y2="1824.48" stroke="#c2c2c2" stroke-width="3.2" stroke-dasharray="3.2 9.6"/>
<line x1="87" y1="1669.94" x2="1371" y2="1669.94" stroke="#c2c2c2" stroke-width="3.2" stroke-dasharray="3.2 9.6"/>
<line x1="1101.42" y1="1639" x2="1101.42" y2="2319.5" stroke="#b3b3b3" stroke-width="8"/>
<path d="M1239 1669.94H1239M1183 1747.21h0M1188 1747.21h0M1215.5 1747.21H1215.5M1309.5 1747.21H1309.5M1004 1824.48H1004M1125 1824.48h0M1131.5 1824.48h0M1162.5 1824.48H1162.5M1205.5 1824.48H1205.5M1301.5 1824.48h0M1306.5 1824.48h0M1311.5 1824.48h0M402.5 1901.75H402.5M739 1901.75H739M1021.5 1901.75H1021.5M1048 1901.75h0M1055 1901.75h0M1157.5 1901.75H1157.5M1181.5 1901.75h0M1188 1901.75h0M1219.5 1901.75h0M1224 1901.75h0M1228.5 1901.75h0M1242 1901.75h0M1249 1901.75h0M1256 1901.75h0M1305.5 1901.75h0M1312.7 1901.75h0M157.5 1979.02H157.5M176.5 1979.02H176.5M399 1979.02H399M517.5 1979.02H517.5M532.5 1979.02H532.5M757.5 1979.02H757.5M816 1979.02H816M969.5 1979.02h0M975.25 1979.02h0M981 1979.02h0M998.5 1979.02H998.5M1071 1979.02H1071M1106 1979.02H1106M1126 1979.02h0M1131.83 1979.02h0M1137.67 1979.02h0M1143.5 1979.02h0M1169.5 1979.02h0M1176.94 1979.02h0M1184.39 1979.02h0M1191.83 1979.02h0M1199.28 1979.02h0M1206.72 1979.02h0M1214.17 1979.02h0M1221.61 1979.02h0M1229.06 1979.02h0M1236.5 1979.02h0M1243.94 1979.02h0M1251.39 1979.02h0M1258.83 1979.02h0M1266.28 1979.02h0M1273.72 1979.02h0M1281.17 1979.02h0M1288.61 1979.02h0M1296.06 1979.02h0M1303.5 1979.02h0M178 2056.29H178M356.5 2056.29H356.5M409 2056.29H409M478.5 2056.29h0M484 2056.29h0M568 2056.29H568M582 2056.29H582M605 2056.29H605M645 2056.29h0M650 2056.29h0M666 2056.29h0M673.5 2056.29h0M707 2056.29H707M765 2056.29h0M769.5 2056.29h0M774 2056.29h0M804.5 2056.29H804.5M837 2056.29H837M869 2056.29H869M919.5 2056.29h0M925 2056.29h0M930.5 2056.29h0M936 2056.29h0M953 2056.29h0M958.5 2056.29h0M964 2056.29h0M982 2056.29h0M989.33 2056.29h0M996.67 2056.29h0M1004 2056.29h0M1011.33 2056.29h0M1018.67 2056.29h0M1026 2056.29h0M1043 2056.29H1043M1060.5 2056.29H1060.5M1078 2056.29h0M1084 2056.29h0M1097 2056.29h0M1104.44 2056.29h0M1111.88 2056.29h0M1119.31 2056.29h0M1126.75 2056.29h0M1134.19 2056.29h0M1141.63 2056.29h0M1149.07 2056.29h0M1156.5 2056.29h0M1163.94 2056.29h0M1171.38 2056.29h0M1178.82 2056.29h0M1186.26 2056.29h0M1193.69 2056.29h0M1201.13 2056.29h0M1208.57 2056.29h0M1216.01 2056.29h0M1223.44 2056.29h0M1230.88 2056.29h0M1238.32 2056.29h0M1245.76 2056.29h0M1253.2 2056.29h0M1260.63 2056.29h0M1268.07 2056.29h0M1275.51 2056.29h0M1282.95 2056.29h0M1290.39 2056.29h0M1297.82 2056.29h0M1305.26 2056.29h0M1312.7 2056.29h0M145.5 2133.56H145.5M157.5 2133.56H157.5M178 2133.56h0M184.5 2133.56h0M191 2133.56h0M209 2133.56h0M214 2133.56h0M219 2133.56h0M237.5 2133.56H237.5M256 2133.56H256M270 2133.56h0M274.5 2133.56h0M279 2133.56h0M315.5 2133.56h0M320.67 2133.56h0M325.83 2133.56h0M331 2133.56h0M350 2133.56H350M373 2133.56h0M380.46 2133.56h0M387.92 2133.56h0M395.38 2133.56h0M402.83 2133.56h0M410.29 2133.56h0M417.75 2133.56h0M425.21 2133.56h0M432.67 2133.56h0M440.12 2133.56h0M447.58 2133.56h0M455.04 2133.56h0M462.5 2133.56h0M469.96 2133.56h0M477.42 2133.56h0M484.88 2133.56h0M492.33 2133.56h0M499.79 2133.56h0M507.25 2133.56h0M514.71 2133.56h0M522.17 2133.56h0M529.62 2133.56h0M537.08 2133.56h0M544.54 2133.56h0M552 2133.56h0M565.5 2133.56h0M572.65 2133.56h0M579.8 2133.56h0M586.95 2133.56h0M594.1 2133.56h0M601.25 2133.56h0M608.4 2133.56h0M615.55 2133.56h0M622.7 2133.56h0M629.85 2133.56h0M637 2133.56h0M649 2133.56h0M655.75 2133.56h0M662.5 2133.56h0M672.5 2133.56h0M678.75 2133.56h0M685 2133.56h0M698 2133.56h0M705.36 2133.56h0M712.71 2133.56h0M720.07 2133.56h0M727.43 2133.56h0M734.79 2133.56h0M742.14 2133.56h0M749.5 2133.56h0M756.86 2133.56h0M764.21 2133.56h0M771.57 2133.56h0M778.93 2133.56h0M786.29 2133.56h0M793.64 2133.56h0M801 2133.56h0M826 2133.56h0M833.42 2133.56h0M840.85 2133.56h0M848.27 2133.56h0M855.69 2133.56h0M863.12 2133.56h0M870.54 2133.56h0M877.96 2133.56h0M885.38 2133.56h0M892.81 2133.56h0M900.23 2133.56h0M907.65 2133.56h0M915.08 2133.56h0M922.5 2133.56h0M929.92 2133.56h0M937.35 2133.56h0M944.77 2133.56h0M952.19 2133.56h0M959.62 2133.56h0M967.04 2133.56h0M974.46 2133.56h0M981.88 2133.56h0M989.31 2133.56h0M996.73 2133.56h0M1004.15 2133.56h0M1011.58 2133.56h0M1019 2133.56h0M1026.42 2133.56h0M1033.85 2133.56h0M1041.27 2133.56h0M1048.69 2133.56h0M1056.12 2133.56h0M1063.54 2133.56h0M1070.96 2133.56h0M1078.38 2133.56h0M1085.81 2133.56h0M1093.23 2133.56h0M1100.65 2133.56h0M1108.08 2133.56h0M1115.5 2133.56h0M1122.92 2133.56h0M1130.35 2133.56h0M1137.77 2133.56h0M1145.19 2133.56h0M1152.62 2133.56h0M1160.04 2133.56h0M1167.46 2133.56h0M1174.88 2133.56h0M1182.31 2133.56h0M1189.73 2133.56h0M1197.15 2133.56h0M1204.58 2133.56h0M1212 2133.56h0M1219.42 2133.56h0M1226.85 2133.56h0M1234.27 2133.56h0M1241.69 2133.56h0M1249.12 2133.56h0M1256.54 2133.56h0M1263.96 2133.56h0M1271.38 2133.56h0M1278.81 2133.56h0M1286.23 2133.56h0M1293.65 2133.56h0M1301.08 2133.56h0M1308.5 2133.56h0M145.5 2210.83H1312.7M145.5 2288.1H1312.7" stroke="#cccccc" stroke-width="13" stroke-linecap="round" fill="none"/>
<polyline points="145.4,2263.99 161.33,2263.49 177.27,2262.98 193.2,2262.46 209.13,2261.93 225.07,2261.39 241,2260.84 256.94,2260.28 272.87,2259.7 288.8,2259.11 304.74,2258.51 320.67,2257.9 336.6,2257.28 352.54,2256.64 368.47,2255.99 384.4,2255.32 400.34,2254.65 416.27,2253.95 432.21,2253.25 448.14,2252.53 464.07,2251.79 480.01,2251.04 495.94,2250.27 511.87,2249.49 527.81,2248.69 543.74,2247.88 559.67,2247.05 575.61,2246.2 591.54,2245.33 607.48,2244.44 623.41,2243.54 639.34,2242.62 655.28,2241.68 671.21,2240.72 687.14,2239.74 703.08,2238.74 719.01,2237.72 734.94,2236.67 750.88,2235.61 766.81,2234.53 782.75,2233.42 798.68,2232.29 814.61,2231.13 830.55,2229.95 846.48,2228.75 862.41,2227.52 878.35,2226.27 894.28,2224.99 910.21,2223.68 926.15,2222.35 942.08,2220.99 958.02,2219.6 973.95,2218.19 989.88,2216.74 1005.82,2215.26 1021.75,2213.76 1037.68,2212.22 1053.62,2210.65 1069.55,2209.05 1085.49,2207.41 1101.42,2205.74" fill="none" stroke="#000" stroke-width="2.6"/>
<polyline points="1101.42,2135.03 1104.94,2134.66 1108.46,2134.3 1111.98,2133.93 1115.5,2133.56 1119.03,2133.2 1122.55,2132.83 1126.07,2132.46 1129.59,2132.09 1133.11,2131.71 1136.63,2131.34 1140.15,2130.97 1143.67,2130.59 1147.2,2130.22 1150.72,2129.84 1154.24,2129.46 1157.76,2129.09 1161.28,2128.71 1164.8,2128.33 1168.32,2127.95 1171.85,2127.57 1175.37,2127.18 1178.89,2126.8 1182.41,2126.41 1185.93,2126.03 1189.45,2125.64 1192.97,2125.26 1196.5,2124.87 1200.02,2124.48 1203.54,2124.09 1207.06,2123.7 1210.58,2123.31 1214.1,2122.91 1217.62,2122.52 1221.14,2122.13 1224.67,2121.73 1228.19,2121.33 1231.71,2120.94 1235.23,2120.54 1238.75,2120.14 1242.27,2119.74 1245.79,2119.34 1249.32,2118.94 1252.84,2118.53 1256.36,2118.13 1259.88,2117.72 1263.4,2117.32 1266.92,2116.91 1270.44,2116.5 1273.97,2116.09 1277.49,2115.68 1281.01,2115.27 1284.53,2114.86 1288.05,2114.45 1291.57,2114.03 1295.09,2113.62 1298.61,2113.2 1302.14,2112.79 1305.66,2112.37 1309.18,2111.95 1312.7,2111.53" fill="none" stroke="#000" stroke-width="2.6"/>
<path d="M87 1639V2319.5H1371" fill="none" stroke="#000" stroke-width="2.8" stroke-linecap="butt"/>
<path d="M79 2288.1H87M79 2133.56H87M79 1979.02H87M79 1824.48H87M79 1669.94H87M145.4 2319.5V2328M378.86 2319.5V2328M612.32 2319.5V2328M845.78 2319.5V2328M1079.24 2319.5V2328M1312.7 2319.5V2328" stroke="#000" stroke-width="2.5"/>
<text x="72" y="2297.5" text-anchor="end" class="tk">0</text>
<text x="72" y="2142.96" text-anchor="end" class="tk">2</text>
<text x="72" y="1988.42" text-anchor="end" class="tk">4</text>
<text x="72" y="1833.88" text-anchor="end" class="tk">6</text>
<text x="72" y="1679.34" text-anchor="end" class="tk">8</text>
<text x="145.4" y="2354.7" text-anchor="middle" class="tk">2012</text>
<text x="378.86" y="2354.7" text-anchor="middle" class="tk">2014</text>
<text x="612.32" y="2354.7" text-anchor="middle" class="tk">2016</text>
<text x="845.78" y="2354.7" text-anchor="middle" class="tk">2018</text>
<text x="1079.24" y="2354.7" text-anchor="middle" class="tk">2020</text>
<text x="1312.7" y="2354.7" text-anchor="middle" class="tk">2022</text>
<text x="729" y="2391.7" text-anchor="middle" class="ti">Date</text>
<text transform="translate(42.2 1979.25) rotate(-90)" x="0" y="0" text-anchor="middle" class="ti">Number of Self-Injurious Incidents</text>
</svg></body></html>
